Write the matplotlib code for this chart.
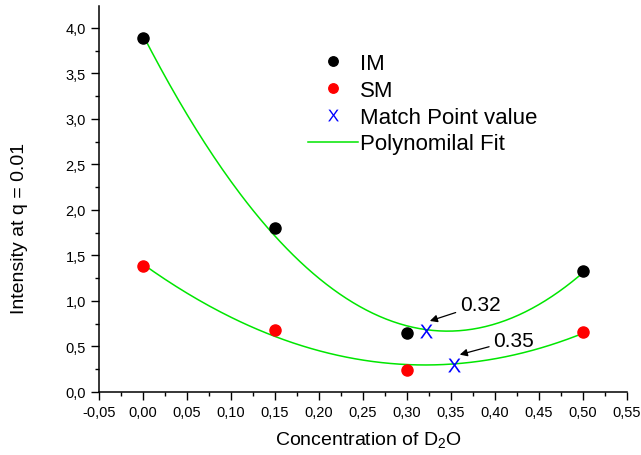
import numpy as np
import matplotlib.pyplot as plt
from matplotlib.ticker import MultipleLocator, FuncFormatter

plt.rcParams['font.family'] = ['Liberation Sans', 'DejaVu Sans']
plt.rcParams['mathtext.fontset'] = 'custom'
plt.rcParams['mathtext.rm'] = 'Liberation Sans'
plt.rcParams['mathtext.it'] = 'Liberation Sans:italic'

conc = [0.0, 0.15, 0.30, 0.50]
im_vals = [3.89, 1.80, 0.65, 1.33]
sm_vals = [1.38, 0.68, 0.24, 0.66]
match_x = [0.322, 0.353]
match_y = [0.67, 0.30]
match_labels = ['0.32', '0.35']

fig = plt.figure(figsize=(6.41, 4.56), dpi=100)
ax = fig.add_axes([0.1544, 0.1382, 0.8237, 0.8465])

# quadratic fits through the measured points
xs = np.linspace(0, 0.5, 200)
p_im = np.polyfit(conc, im_vals, 2)
p_sm = np.polyfit(conc, sm_vals, 2)
ax.plot(xs, np.polyval(p_im, xs), color='#00e600', lw=1.1, label='Polynomilal Fit', zorder=2)
ax.plot(xs, np.polyval(p_sm, xs), color='#00e600', lw=1.1, zorder=2)

ax.plot(conc, im_vals, 'o', color='black', ms=8, label='IM', zorder=3)
ax.plot(conc, sm_vals, 'o', color='red', ms=8, label='SM', zorder=3)
ax.plot(match_x, match_y, ls='none', marker=r'$\mathrm{X}$', color='blue', ms=10, mew=0,
        label='Match Point value', zorder=4)

# arrow labels for the match points
heads = [(0.004, 0.11), (0.007, 0.11)]
texts = [(0.038, 0.29), (0.045, 0.27)]
for x, y, t, (hx, hy), (tx, ty) in zip(match_x, match_y, match_labels, heads, texts):
    ax.annotate(t, xy=(x + hx, y + hy), xytext=(x + tx, y + ty), fontsize=15,
                arrowprops=dict(arrowstyle='-|>', color='black', lw=0.9, mutation_scale=11,
                                shrinkA=1, shrinkB=0),
                va='center', ha='left')

ax.set_xlim(-0.05, 0.55)
ax.set_ylim(0, 4.24)
ax.xaxis.set_major_locator(MultipleLocator(0.05))
ax.xaxis.set_minor_locator(MultipleLocator(0.025))
ax.yaxis.set_major_locator(MultipleLocator(0.5))
ax.yaxis.set_minor_locator(MultipleLocator(0.25))
ax.xaxis.set_major_formatter(FuncFormatter(lambda v, p: f'{v:.2f}'.replace('.', ',').replace('-0,00', '0,00')))
ax.yaxis.set_major_formatter(FuncFormatter(lambda v, p: f'{v:.1f}'.replace('.', ',')))
ax.tick_params(which='both', direction='out', labelsize=10.5, width=1)
ax.tick_params(which='major', length=5.5, pad=4)
ax.tick_params(which='minor', length=3)
for s in ['top', 'right']:
    ax.spines[s].set_visible(False)
for s in ['left', 'bottom']:
    ax.spines[s].set_linewidth(1.1)

ax.set_xlabel('Concentration of D$_2$O', fontsize=14)
ax.set_ylabel('Intensity at q = 0.01', fontsize=14)
ax.xaxis.label.set_va('center')
ax.yaxis.label.set_va('center')
ax.xaxis.set_label_coords(0.51, -0.122)
ax.yaxis.set_label_coords(-0.150, 0.427)

h, l = ax.get_legend_handles_labels()
order = [1, 2, 3, 0]
fig.legend([h[i] for i in order], [l[i] for i in order], frameon=False, fontsize=16,
           loc='upper left', bbox_to_anchor=(308 / 641, 1 - 54 / 456), handlelength=2.25,
           labelspacing=0.26, handletextpad=0.08, borderpad=0, borderaxespad=0,
           markerscale=0.85)

fig.savefig('out.png', dpi=100)
